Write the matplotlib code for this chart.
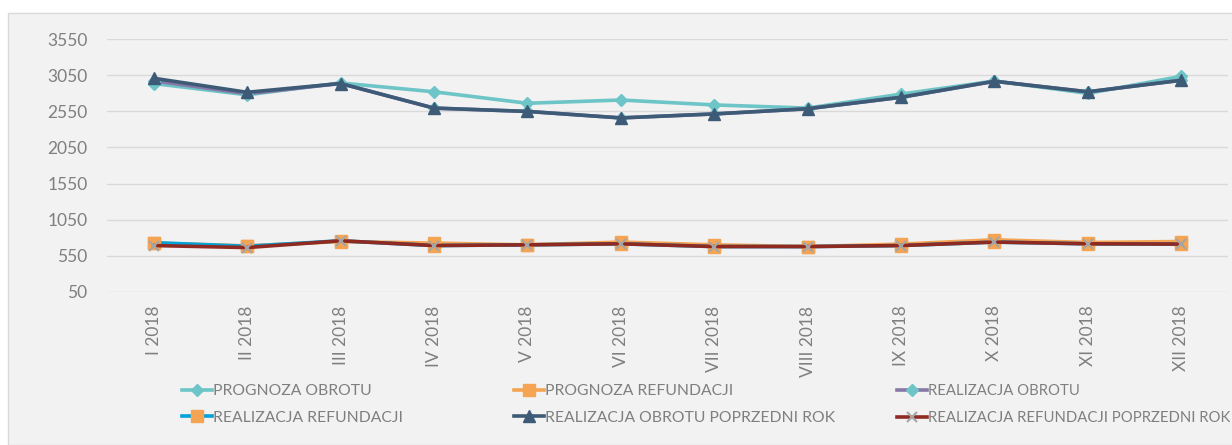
import matplotlib.pyplot as plt
from matplotlib.patches import Rectangle

months = ['I 2018', 'II 2018', 'III 2018', 'IV 2018', 'V 2018', 'VI 2018',
          'VII 2018', 'VIII 2018', 'IX 2018', 'X 2018', 'XI 2018', 'XII 2018']

prognoza_obrotu = [2937, 2780, 2945, 2822, 2663, 2708, 2640, 2596, 2790, 2972, 2800, 3036]
prognoza_refundacji = [724, 686, 746, 724, 700, 738, 700, 676, 710, 770, 732, 746]
realizacja_obrotu = [2975, 2795, 2937, 2596, 2550, 2460, 2515, 2587, 2746, 2968, 2822, 2982]
realizacja_refundacji = [730, 680, 756, 690, 700, 714, 676, 676, 690, 738, 714, 710]
obrot_poprzedni = [3010, 2815, 2937, 2596, 2550, 2460, 2515, 2587, 2746, 2968, 2822, 2982]
refundacja_poprzedni = [690, 662, 756, 690, 700, 714, 676, 676, 690, 738, 714, 710]

plt.rcParams['font.family'] = ['Lato', 'DejaVu Sans']
grey = '#7F7F7F'

fig = plt.figure(figsize=(12.32, 4.45), dpi=100, facecolor='white')
fig.patches.append(Rectangle((8 / 1232, 0), 1, 1 - 13 / 445, transform=fig.transFigure,
                             facecolor='#F2F2F2', edgecolor='#D9D9D9', linewidth=1, zorder=-10))

ax = fig.add_axes([107 / 1232, 1 - 291.7 / 445, (1228 - 107) / 1232, (291.7 - 39.3) / 445])
ax.set_facecolor('none')

x = range(len(months))
lw = 2.6
l1, = ax.plot(x, prognoza_obrotu, color='#6DC5C8', lw=lw, marker='D', ms=6.5,
              mfc='#6DC5C8', mec='#6DC5C8', label='PROGNOZA OBROTU')
l2, = ax.plot(x, prognoza_refundacji, color='#F4A452', lw=lw, marker='s', ms=8,
              mfc='#F4A452', mec='#F4A452', label='PROGNOZA REFUNDACJI')
l3, = ax.plot(x, realizacja_obrotu, color='#8778A8', lw=lw, marker='D', ms=6.5,
              mfc='#6DC5C8', mec='#6DC5C8', label='REALIZACJA OBROTU')
l4, = ax.plot(x, realizacja_refundacji, color='#00A3DA', lw=lw, marker='s', ms=8,
              mfc='#F4A452', mec='#F4A452', label='REALIZACJA REFUNDACJI')
l5, = ax.plot(x, obrot_poprzedni, color='#3D5A76', lw=lw, marker='^', ms=8.5,
              mfc='#3D5A76', mec='#3D5A76', label='REALIZACJA OBROTU POPRZEDNI ROK')
l6, = ax.plot(x, refundacja_poprzedni, color='#8F2A23', lw=lw, marker='x', ms=7,
              mew=1.5, mec='#A5A5A5', label='REALIZACJA REFUNDACJI POPRZEDNI ROK')

ax.set_xlim(-0.5, 11.5)
ax.set_ylim(50, 3550)
ax.set_yticks(range(50, 3551, 500))
ax.set_xticks(list(x))
ax.set_xticklabels(months, rotation=90)
ax.grid(axis='y', color='#D9D9D9', linewidth=1)
ax.set_axisbelow(True)
for s in ax.spines.values():
    s.set_visible(False)
ax.tick_params(axis='y', length=0, pad=14, labelsize=12.5, labelcolor=grey)
ax.tick_params(axis='x', length=0, pad=10, labelsize=12.5, labelcolor=grey)

# legenda w trzech kolumnach, kolejność wierszami jak w Excelu
cols = [(l1, l4), (l2, l5), (l3, l6)]
xs = [182, 514, 897]
sizes = [11.3, 11.3, 10.7]
for hs, xp, fs in zip(cols, xs, sizes):
    lg = fig.legend(handles=list(hs), loc='upper left', bbox_to_anchor=(xp / 1232, 1 - 384 / 445),
                    frameon=False, fontsize=fs, handlelength=1.9 * 11.3 / fs, handletextpad=0.1,
                    labelspacing=0.82 * 11.3 / fs, borderpad=0, borderaxespad=0)
    for t in lg.get_texts():
        t.set_color(grey)

fig.savefig('out.png', dpi=100)
